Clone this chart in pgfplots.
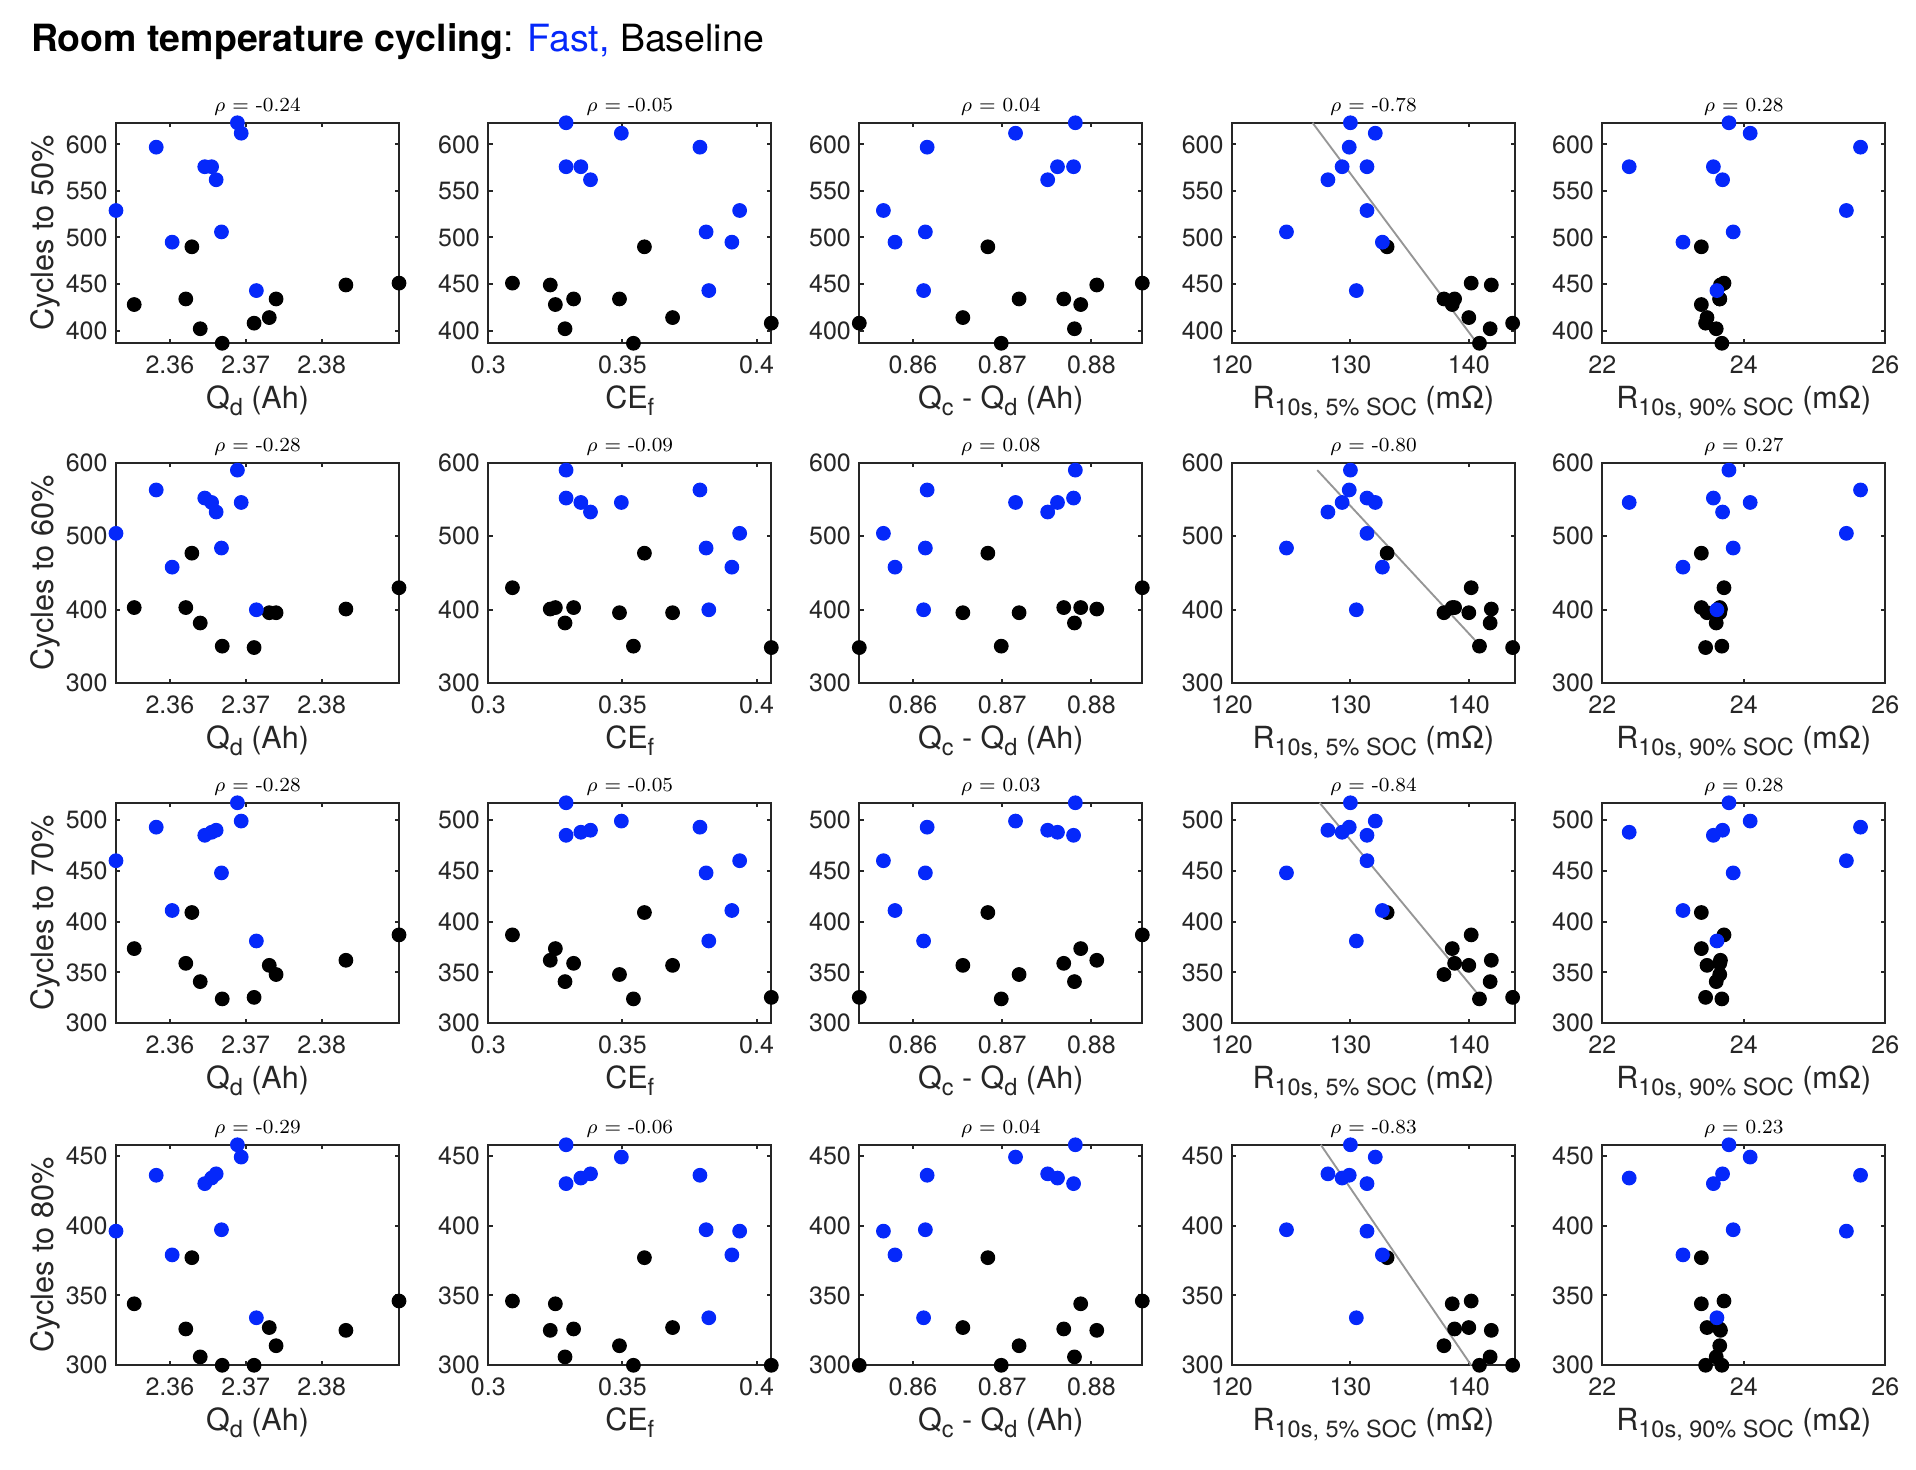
\documentclass[border=0pt]{standalone}
\usepackage{fontspec}
\setsansfont{TeX Gyre Heros}
\usepackage{pgfplots}
\pgfplotsset{compat=1.18}
\usepackage{pgfplotstable}
\definecolor{fastblue}{RGB}{5,40,250}
\definecolor{axgray}{RGB}{38,38,38}
\definecolor{fitgray}{RGB}{150,150,150}
\newcommand{\sub}[1]{\raisebox{-3pt}{\fontsize{9.4}{10}\selectfont #1}}

\pgfplotstableread{
Qd     CE     QcQd   R5    R90   c50   c60   c70   c80
2.3689 0.3290 0.8782 130.0 23.79 623.2 590   517   457.8
2.3694 0.3496 0.8715 132.1 24.09 612   546   499   449
2.3582 0.3789 0.8616 129.9 25.65 597   563   493   436
2.3646 0.3290 0.8780 131.4 23.57 576   552   485   430
2.3655 0.3345 0.8762 129.3 22.38 576   546   488   434
2.3661 0.3381 0.8751 128.1 23.70 562   533   490   437
2.3529 0.3937 0.8567 131.4 25.45 529   504   460   396
2.3668 0.3812 0.8614 124.6 23.85 506   484   448   397
2.3603 0.3908 0.8580 132.7 23.14 495   458   411   379
2.3714 0.3822 0.8612 130.5 23.62 443   400   381   334
}\fast

\pgfplotstableread{
Qd     CE     QcQd   R5    R90   c50   c60   c70   c80
2.3553 0.3250 0.8788 138.6 23.40 428   403   373.5 344
2.3621 0.3318 0.8769 138.8 23.66 434   403   359   326
2.3629 0.3582 0.8684 133.1 23.40 490   477   409   377
2.3640 0.3286 0.8781 141.8 23.61 402   382   341   306
2.3669 0.3541 0.8699 140.9 23.69 386.4 350.5 324   300
2.3711 0.4055 0.8540 143.7 23.46 408   348.6 325.5 300
2.3731 0.3687 0.8656 140.0 23.48 414   396   357   327
2.3740 0.3489 0.8719 137.9 23.66 434   396   348   314
2.3832 0.3231 0.8806 141.9 23.67 449   401   362   325
2.3902 0.3090 0.8857 140.2 23.72 451   430   387   346
}\base

\pgfplotsset{
  panel/.style={
    anchor=south west, scale only axis, width=113.2pt, height=88.2pt,
    clip=false, scaled ticks=false,
    axis line style={axgray, line width=0.9pt},
    tick style={axgray, line width=0.8pt}, major tick length=1.7pt,
    tick align=inside, minor tick num=0,
    font=\sffamily\fontsize{10}{11}\selectfont,
    /pgf/number format/assume math mode=true,
    every axis title shift=0pt,
    xticklabel style={anchor=base, inner sep=0pt, yshift=-12pt, text=axgray},
    yticklabel style={anchor=east, inner sep=0pt, xshift=-3.2pt, text=axgray},
    xlabel style={at={(axis description cs:0.5,0)}, anchor=base, inner sep=0pt, yshift=-26pt,
      font=\sffamily\fontsize{12.2}{13}\selectfont, text=axgray},
    ylabel style={at={(axis description cs:-0.221,0.5)}, anchor=base, inner sep=0pt,
      font=\sffamily\fontsize{12.3}{13}\selectfont, text=axgray},
    title style={at={(axis description cs:0.5,1)}, anchor=base, inner sep=0pt, yshift=4.4pt,
      font=\rmfamily\fontsize{8}{9}\selectfont, text=black},
  },
  colQd/.style={xmin=2.3529, xmax=2.3902, xtick={2.36,2.37,2.38}, xlabel={Q\sub{d} (Ah)}},
  colCE/.style={xmin=0.3, xmax=0.4055, xtick={0.3,0.35,0.4}, xlabel={CE\sub{f}}},
  colQ/.style={xmin=0.8540, xmax=0.8857, xtick={0.86,0.87,0.88}, xlabel={Q\sub{c} - Q\sub{d} (Ah)}},
  colRa/.style={xmin=120, xmax=143.9, xtick={120,130,140}, xlabel={R\sub{10s, 5\% SOC} (mΩ)}},
  colRb/.style={xmin=22, xmax=26, xtick={22,24,26}, xlabel={R\sub{10s, 90\% SOC} (mΩ)}},
  rowA/.style={ymin=386.4, ymax=623.2, ytick={400,450,500,550,600}},
  rowB/.style={ymin=300, ymax=600, ytick={300,400,500,600}},
  rowC/.style={ymin=300, ymax=517, ytick={300,350,400,450,500}},
  rowD/.style={ymin=300, ymax=457.8, ytick={300,350,400,450}},
  basemark/.style={only marks, mark=*, mark size=2.75pt, color=black},
  fastmark/.style={only marks, mark=*, mark size=2.75pt, color=fastblue},
  fitline/.style={fitgray, line width=0.75pt, no marks},
}

\newcommand{\panel}[7]{%
  \begin{axis}[panel, at={(#1pt,#2pt)}, #3, title={$\rho$ = #6}]
    \addplot[basemark] table[x=#4, y=#5] {\base};
    \addplot[fastmark] table[x=#4, y=#5] {\fast};
    #7
  \end{axis}}

\begin{document}
\begin{tikzpicture}
\useasboundingbox (0,0) rectangle (766.4pt,588pt);
\node[anchor=base west, inner sep=0pt, font=\sffamily\fontsize{15}{17}\selectfont] at (12.2pt,567.5pt)
  {\textbf{Room temperature cycling}: \textcolor{fastblue}{Fast,} Baseline};

% row 1
\panel{46.4}{450.68}{colQd, rowA, ylabel={Cycles to 50\%}}{Qd}{c50}{-0.24}{}
\panel{195.32}{450.68}{colCE, rowA}{CE}{c50}{-0.05}{}
\panel{343.72}{450.68}{colQ, rowA}{QcQd}{c50}{0.04}{}
\panel{492.8}{450.68}{colRa, rowA}{R5}{c50}{-0.78}{\addplot[fitline] coordinates {(126.8,623.2) (140.7,386.4)};}
\panel{640.92}{450.68}{colRb, rowA}{R90}{c50}{0.28}{}
% row 2
\panel{46.4}{314.68}{colQd, rowB, ylabel={Cycles to 60\%}}{Qd}{c60}{-0.28}{}
\panel{195.32}{314.68}{colCE, rowB}{CE}{c60}{-0.09}{}
\panel{343.72}{314.68}{colQ, rowB}{QcQd}{c60}{0.08}{}
\panel{492.8}{314.68}{colRa, rowB}{R5}{c60}{-0.80}{\addplot[fitline] coordinates {(127.2,590) (141.1,348.6)};}
\panel{640.92}{314.68}{colRb, rowB}{R90}{c60}{0.27}{}
% row 3
\panel{46.4}{178.68}{colQd, rowC, ylabel={Cycles to 70\%}}{Qd}{c70}{-0.28}{}
\panel{195.32}{178.68}{colCE, rowC}{CE}{c70}{-0.05}{}
\panel{343.72}{178.68}{colQ, rowC}{QcQd}{c70}{0.03}{}
\panel{492.8}{178.68}{colRa, rowC}{R5}{c70}{-0.84}{\addplot[fitline] coordinates {(127.4,517) (141.1,324)};}
\panel{640.92}{178.68}{colRb, rowC}{R90}{c70}{0.28}{}
% row 4
\panel{46.4}{41.88}{colQd, rowD, ylabel={Cycles to 80\%}}{Qd}{c80}{-0.29}{}
\panel{195.32}{41.88}{colCE, rowD}{CE}{c80}{-0.06}{}
\panel{343.72}{41.88}{colQ, rowD}{QcQd}{c80}{0.04}{}
\panel{492.8}{41.88}{colRa, rowD}{R5}{c80}{-0.83}{\addplot[fitline] coordinates {(127.5,457.8) (140.2,300)};}
\panel{640.92}{41.88}{colRb, rowD}{R90}{c80}{0.23}{}
\end{tikzpicture}
\end{document}
